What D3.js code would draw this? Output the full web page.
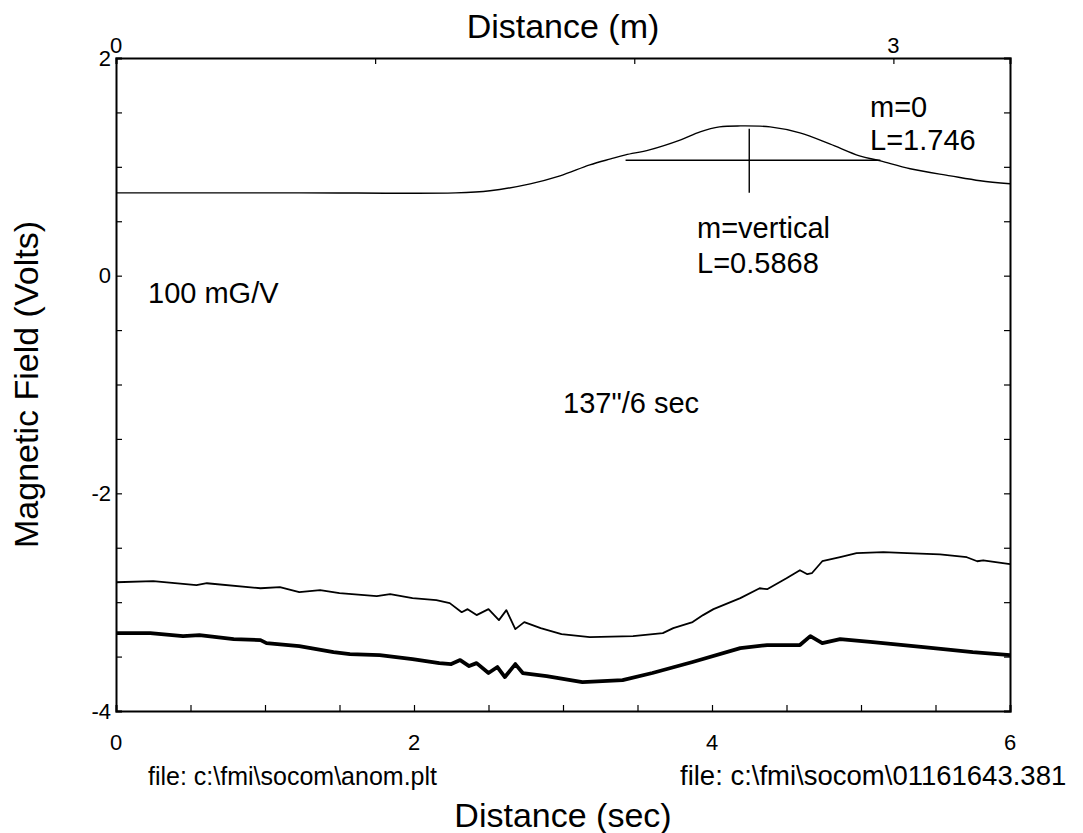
<!DOCTYPE html>
<html>
<head>
<meta charset="utf-8">
<script src="https://cdn.jsdelivr.net/npm/d3@7"></script>
<style>
  body { margin: 0; background: #fff; }
  svg { font-family: "Liberation Sans", Arial, sans-serif; }
</style>
</head>
<body>
<div id="chart"></div>
<script>
// model anomaly curve (seconds, volts)
const modelX = [0, 1.23, 2.28, 2.51, 2.78, 2.98, 3.18, 3.32, 3.42, 3.58, 3.79, 3.92, 4.05, 4.19, 4.39, 4.59, 4.79, 4.99, 5.13, 5.33, 5.60, 5.80, 6.00];
const modelY = [0.761, 0.761, 0.761, 0.780, 0.844, 0.917, 1.018, 1.073, 1.110, 1.156, 1.248, 1.321, 1.367, 1.376, 1.367, 1.312, 1.211, 1.101, 1.055, 0.982, 0.917, 0.872, 0.844];

// measured trace, thin line
const thinX = [0.00, 0.25, 0.54, 0.61, 0.97, 1.10, 1.23, 1.37, 1.50, 1.75, 1.84, 1.99, 2.15, 2.24, 2.32, 2.36, 2.42, 2.50, 2.57, 2.62, 2.68, 2.74, 2.85, 2.99, 3.18, 3.47, 3.67, 3.74, 3.87, 3.94, 4.01, 4.19, 4.32, 4.37, 4.50, 4.59, 4.64, 4.67, 4.74, 4.86, 4.97, 5.15, 5.31, 5.53, 5.71, 5.78, 5.82, 6.00];
const thinY = [-2.817, -2.807, -2.844, -2.826, -2.872, -2.862, -2.908, -2.890, -2.917, -2.945, -2.927, -2.963, -2.982, -3.009, -3.092, -3.064, -3.119, -3.064, -3.165, -3.073, -3.248, -3.183, -3.239, -3.294, -3.321, -3.312, -3.284, -3.239, -3.183, -3.119, -3.064, -2.963, -2.872, -2.881, -2.780, -2.706, -2.743, -2.734, -2.624, -2.587, -2.550, -2.541, -2.550, -2.560, -2.587, -2.624, -2.615, -2.651];

// measured trace, thick line
const thickX = [0, 0.23, 0.45, 0.56, 0.79, 0.97, 1.01, 1.23, 1.46, 1.57, 1.77, 1.99, 2.17, 2.25, 2.31, 2.37, 2.42, 2.50, 2.56, 2.61, 2.68, 2.73, 2.89, 3.13, 3.40, 3.60, 3.87, 4.19, 4.37, 4.59, 4.66, 4.74, 4.86, 5.08, 5.42, 5.75, 6.00];
const thickY = [-3.284, -3.284, -3.312, -3.303, -3.339, -3.349, -3.376, -3.404, -3.459, -3.477, -3.486, -3.523, -3.560, -3.569, -3.532, -3.587, -3.560, -3.651, -3.596, -3.688, -3.569, -3.651, -3.679, -3.734, -3.716, -3.651, -3.550, -3.422, -3.394, -3.394, -3.312, -3.376, -3.339, -3.367, -3.413, -3.459, -3.486];

// fit markers: horizontal width line and vertical line
const hLineX = [3.42, 5.13];
const hLineY = 1.06;
const vLineX = 4.25;
const vLineY = [0.761, 1.349];

const xTicks = [0, 2, 4, 6];
const yTicks = [2, 0, -2, -4];
const topTicks = [0, 3];

const width = 1083;
const height = 833;
const margin = { left: 116, right: 73, top: 58, bottom: 122 };

const svg = d3.select('#chart').append('svg')
  .attr('width', width)
  .attr('height', height);

const x = d3.scaleLinear().domain([0, 6]).range([margin.left, width - margin.right]);
const y = d3.scaleLinear().domain([-4, 2]).range([height - margin.bottom, margin.top]);
const xTop = d3.scaleLinear().domain([0, 3.45]).range([margin.left, width - margin.right]);

const halfSteps = d3.range(0, 6.01, 0.5);
const yHalfSteps = d3.range(-4, 2.01, 0.5);

// axes with inward ticks
svg.append('g')
  .attr('transform', `translate(0,${y(-4)})`)
  .call(d3.axisTop(x).tickValues(halfSteps).tickSize(6).tickFormat(''));
svg.append('g')
  .attr('transform', `translate(${x(0)},0)`)
  .call(d3.axisRight(y).tickValues(yHalfSteps).tickSize(6).tickFormat(''));
svg.append('g')
  .attr('transform', `translate(${x(6)},0)`)
  .call(d3.axisLeft(y).tickValues(yHalfSteps).tickSize(6).tickFormat(''));
svg.append('g')
  .attr('transform', `translate(0,${y(2)})`)
  .call(d3.axisBottom(xTop).tickValues([0, 1, 2, 3]).tickSize(6).tickFormat(''));

svg.selectAll('.domain').attr('stroke', '#000').attr('stroke-width', 2);
svg.selectAll('.tick line').attr('stroke', '#000').attr('stroke-width', 1.2);

// tick labels
svg.append('g').selectAll('text')
  .data(xTicks).enter().append('text')
  .attr('x', d => x(d))
  .attr('y', y(-4) + 39)
  .attr('text-anchor', 'middle')
  .style('font-size', '22px')
  .text(d => d);

svg.append('g').selectAll('text')
  .data(yTicks).enter().append('text')
  .attr('x', x(0) - 5)
  .attr('y', d => y(d))
  .attr('dy', '0.35em')
  .attr('text-anchor', 'end')
  .style('font-size', '22px')
  .text(d => d);

svg.append('g').selectAll('text')
  .data(topTicks).enter().append('text')
  .attr('x', d => xTop(d))
  .attr('y', y(2) - 5)
  .attr('text-anchor', 'middle')
  .style('font-size', '22px')
  .text(d => d);

// lines
const line = d3.line().x(d => x(d[0])).y(d => y(d[1]));
const smooth = d3.line().x(d => x(d[0])).y(d => y(d[1])).curve(d3.curveCatmullRom);

svg.append('path')
  .datum(d3.zip(modelX, modelY))
  .attr('d', smooth)
  .attr('fill', 'none').attr('stroke', '#000').attr('stroke-width', 1.4);

svg.append('path')
  .datum(d3.zip(thinX, thinY))
  .attr('d', line)
  .attr('fill', 'none').attr('stroke', '#000').attr('stroke-width', 1.8)
  .attr('stroke-linejoin', 'round');

svg.append('path')
  .datum(d3.zip(thickX, thickY))
  .attr('d', line)
  .attr('fill', 'none').attr('stroke', '#000').attr('stroke-width', 3.8)
  .attr('stroke-linejoin', 'round');

svg.append('line')
  .attr('x1', x(hLineX[0])).attr('x2', x(hLineX[1]))
  .attr('y1', y(hLineY)).attr('y2', y(hLineY))
  .attr('stroke', '#000').attr('stroke-width', 1.4);

svg.append('line')
  .attr('x1', x(vLineX)).attr('x2', x(vLineX))
  .attr('y1', y(vLineY[0])).attr('y2', y(vLineY[1]))
  .attr('stroke', '#000').attr('stroke-width', 1.4);

// titles
svg.append('text')
  .attr('x', (x(0) + x(6)) / 2).attr('y', 38)
  .attr('text-anchor', 'middle')
  .style('font-size', '34px')
  .text('Distance (m)');

svg.append('text')
  .attr('x', (x(0) + x(6)) / 2).attr('y', 827)
  .attr('text-anchor', 'middle')
  .style('font-size', '34px')
  .text('Distance (sec)');

svg.append('text')
  .attr('transform', `translate(38,${(y(2) + y(-4)) / 2}) rotate(-90)`)
  .attr('text-anchor', 'middle')
  .style('font-size', '34px')
  .text('Magnetic Field (Volts)');

// annotations
const notes = [
  ['m=0', 870, 117],
  ['L=1.746', 870, 150],
  ['m=vertical', 697, 238],
  ['L=0.5868', 697, 273],
  ['100 mG/V', 148, 303],
  ['137"/6 sec', 563, 413]
];
svg.append('g').selectAll('text')
  .data(notes).enter().append('text')
  .attr('x', d => d[1]).attr('y', d => d[2])
  .style('font-size', '29px')
  .text(d => d[0]);

svg.append('text').attr('x', 148).attr('y', 785)
  .style('font-size', '25px').text('file: c:\\fmi\\socom\\anom.plt');
svg.append('text').attr('x', 680).attr('y', 785)
  .style('font-size', '27.5px').text('file: c:\\fmi\\socom\\01161643.381');
</script>
</body>
</html>
